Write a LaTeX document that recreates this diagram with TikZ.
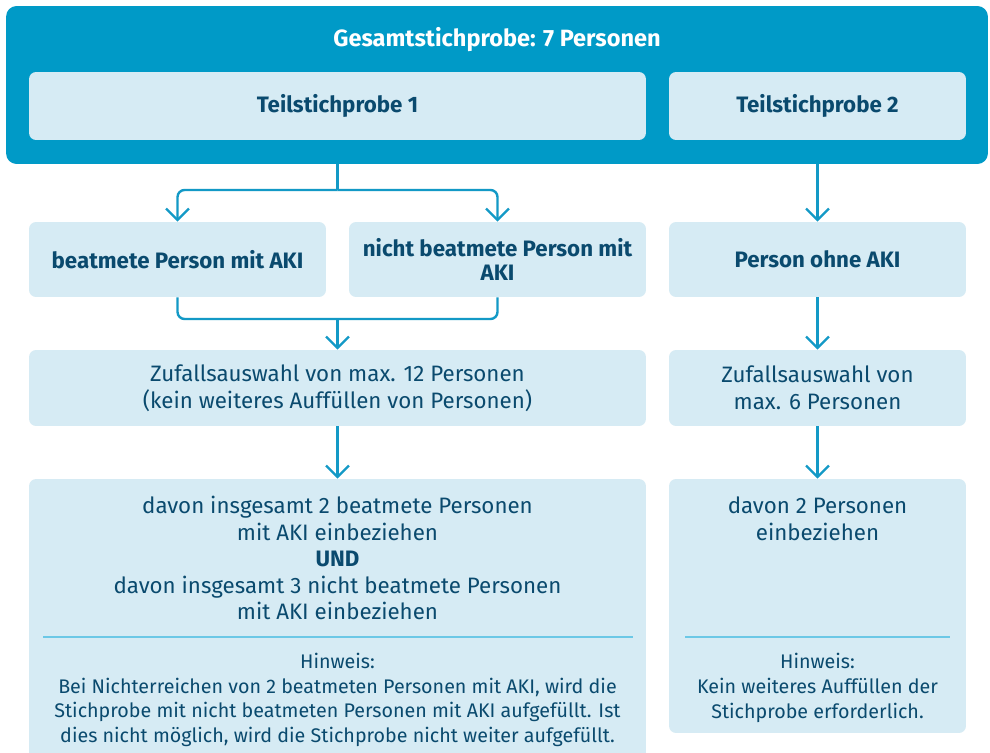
\documentclass[tikz,border=0pt]{standalone}
\usepackage{fontspec}
\setmainfont{Fira Sans}
\usetikzlibrary{arrows.meta}
\definecolor{outerblue}{HTML}{009AC7}
\definecolor{lightfill}{HTML}{D6EBF4}
\definecolor{navy}{HTML}{0A4A6E}
\definecolor{linecol}{HTML}{1399C6}
\definecolor{sepcol}{HTML}{6CC8E6}
\tikzset{
  x=0.02cm, y=-0.02cm,
  lbox/.style={fill=lightfill, rounded corners=4pt, inner sep=0pt},
  txt/.style={text=navy, align=center, inner sep=0pt, font=\fontsize{12.7}{15.1}\selectfont},
  btxt/.style={text=navy, align=center, inner sep=0pt, font=\fontsize{12.7}{14}\selectfont\bfseries},
  htxt/.style={text=navy, align=center, inner sep=0pt, font=\fontsize{11.2}{14}\selectfont},
  conn/.style={draw=linecol, line width=1.35pt},
  arr/.style={conn, -{Straight Barb[length=6.5pt,width=13pt,line width=1.35pt]}},
  sep/.style={draw=sepcol, line width=0.7pt}
}
\begin{document}
\begin{tikzpicture}
\clip (0,0) rectangle (990,753);
\fill[white] (0,0) rectangle (990,753);
% outer box
\node[fill=outerblue, rounded corners=6pt, inner sep=0pt, minimum width=19.64cm, minimum height=3.16cm] (outer) at (497,85) {};
\node[text=white, inner sep=0pt, font=\fontsize{13.4}{15}\selectfont\bfseries] (title) at (497,40) {Gesamtstichprobe: 7 Personen};
\node[lbox, minimum width=12.34cm, minimum height=1.36cm] (T1) at (337.5,106) {};
\node[btxt] (T1t) at (T1) {Teilstichprobe 1};
\node[lbox, minimum width=5.94cm, minimum height=1.36cm] (T2) at (817.5,106) {};
\node[btxt] (T2t) at (T2) {Teilstichprobe 2};
% second row
\node[lbox, minimum width=5.94cm, minimum height=1.5cm] (B1) at (177.5,259.5) {};
\node[btxt] (B1t) at (B1) {beatmete Person mit AKI};
\node[lbox, minimum width=5.94cm, minimum height=1.5cm] (B2) at (497.5,259.5) {};
\node[btxt] (B2t) at (B2) {nicht beatmete Person mit\\AKI};
\node[lbox, minimum width=5.94cm, minimum height=1.5cm] (B3) at (817.5,259.5) {};
\node[btxt] (B3t) at (B3) {Person ohne AKI};
% third row
\node[lbox, minimum width=12.34cm, minimum height=1.52cm] (Z1) at (337.5,388) {};
\node[txt] (Z1t) at (Z1) {Zufallsauswahl von max. 12 Personen\\(kein weiteres Auffüllen von Personen)};
\node[lbox, minimum width=5.94cm, minimum height=1.52cm] (Z2) at (817.5,388) {};
\node[txt] (Z2t) at (Z2) {Zufallsauswahl von\\max. 6 Personen};
% fourth row
\node[lbox, minimum width=12.34cm, minimum height=6.02cm] (D1) at (337.5,629.5) {};
\node[txt] (D1t) at (337.5,558) {davon insgesamt 2 beatmete Personen\\mit AKI einbeziehen\\{\bfseries UND}\\davon insgesamt 3 nicht beatmete Personen\\mit AKI einbeziehen};
\node[htxt] (D1h) at (337.5,700) {Hinweis:\\Bei Nichterreichen von 2 beatmeten Personen mit AKI, wird die\\Stichprobe mit nicht beatmeten Personen mit AKI aufgefüllt. Ist\\dies nicht möglich, wird die Stichprobe nicht weiter aufgefüllt.};
\node[lbox, minimum width=5.94cm, minimum height=5.08cm] (D2) at (817.5,606) {};
\node[txt] (D2t) at (817.5,518.5) {davon 2 Personen\\einbeziehen};
\node[htxt] (D2h) at (817.5,688) {Hinweis:\\Kein weiteres Auffüllen der\\Stichprobe erforderlich.};
% separators
\coordinate (s1a) at (43,637);
\coordinate (s1b) at (633,637);
\coordinate (s2a) at (685,637);
\coordinate (s2b) at (950,637);
\draw[sep] (s1a) -- (s1b);
\draw[sep] (s2a) -- (s2b);
% connectors
\coordinate (j1) at (337.5,190);
\coordinate (j2) at (337.5,319);
\draw[conn] (T1 |- outer.south) -- (j1);
\draw[arr, rounded corners=4pt] (j1) -| (B1.north);
\draw[arr, rounded corners=4pt] (j1) -| (B2.north);
\draw[conn, rounded corners=4pt] (B1.south) |- (j2) -| (B2.south);
\draw[arr] (j2) -- (Z1.north);
\draw[arr] (Z1.south) -- (D1.north);
\draw[arr] (T2 |- outer.south) -- (B3.north);
\draw[arr] (B3.south) -- (Z2.north);
\draw[arr] (Z2.south) -- (D2.north);
\end{tikzpicture}
\end{document}
